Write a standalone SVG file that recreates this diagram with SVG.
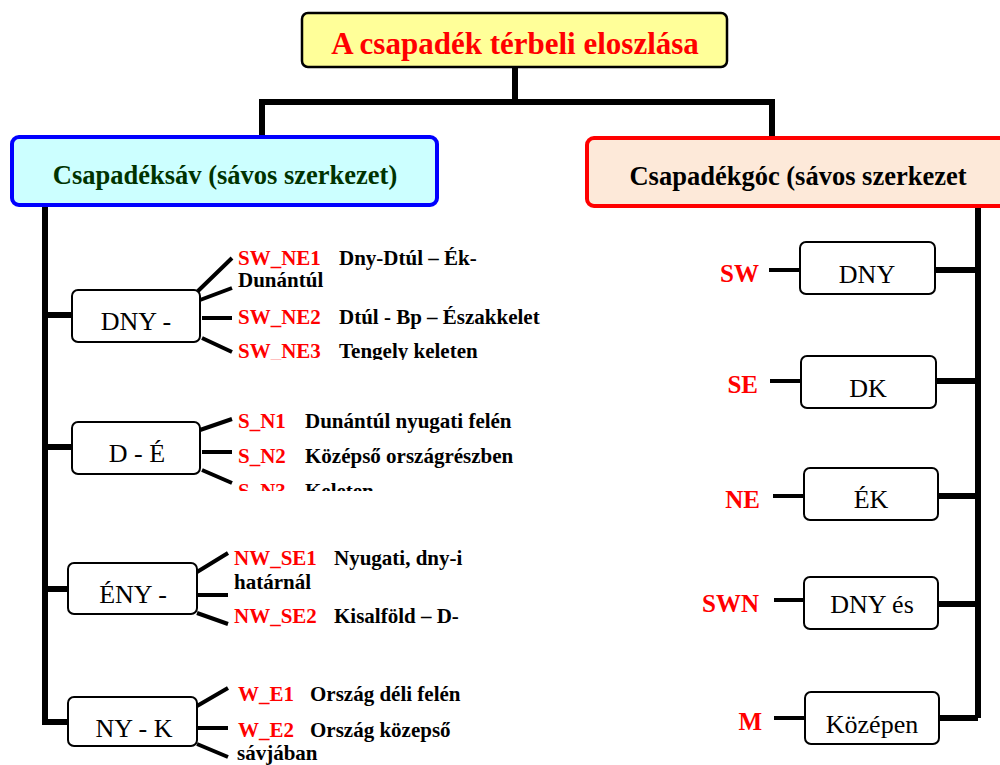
<svg xmlns="http://www.w3.org/2000/svg" width="1000" height="765" viewBox="0 0 1000 765">
<style>
.box{fill:#fff;stroke:#000;stroke-width:2}
.bt{font-family:"Liberation Serif",serif;font-size:26px;fill:#000;text-anchor:middle}
.code{font-family:"Liberation Serif",serif;font-size:21px;font-weight:bold;fill:#ff0000}
.desc{font-family:"Liberation Serif",serif;font-size:21px;font-weight:bold;fill:#000}
.rc{font-family:"Liberation Serif",serif;font-size:25px;font-weight:bold;fill:#ff0000;text-anchor:end}
.thick{stroke:#000;stroke-width:6;fill:none}
.thin{stroke:#000;stroke-width:4;fill:none}
</style>
<defs>
<clipPath id="c1"><rect x="0" y="0" width="1000" height="360"/></clipPath>
<clipPath id="c2"><rect x="0" y="0" width="1000" height="491"/></clipPath>
</defs>
<rect width="1000" height="765" fill="#fff"/>
<g id="connectors">
<path class="thick" d="M515 67V102M259 102H775M262 102V137M772 102V139"/>
<path class="thick" d="M45 205V722H68M45 315H72M45 447H72M45 589H68"/>
<path class="thin" d="M198 291L232 258M200 300L232 288M202 318H232M202 338L232 352"/>
<path class="thin" d="M200 430L232 419M202 452H232M202 470L232 483"/>
<path class="thin" d="M197 572L228 553M198 595H228M197 613L228 624"/>
<path class="thin" d="M197 706L228 688M198 728H228M197 744L228 757"/>
<path class="thick" d="M978 207V718M936 270H978M937 381H978M938 496H978M938 604H978M939 718H978"/>
<path class="thin" d="M769 270H800M770 381H801M773 496H804M774 600H804M774 718H805"/>
</g>
<g id="title">
<rect x="302" y="13" width="425" height="54" rx="6" fill="#ffff99" stroke="#000" stroke-width="2.5"/>
<text x="515" y="54" font-family="Liberation Serif,serif" font-size="31" font-weight="bold" fill="#ff0000" text-anchor="middle">A csapadék térbeli eloszlása</text>
</g>
<g id="hdr-left">
<rect x="12" y="137" width="425" height="68" rx="7" fill="#ccffff" stroke="#0000ff" stroke-width="4"/>
<text x="225" y="184" font-family="Liberation Serif,serif" font-size="26.5" font-weight="bold" fill="#003300" text-anchor="middle">Csapadéksáv (sávos szerkezet)</text>
</g>
<g id="hdr-right">
<rect x="587" y="138" width="430" height="68" rx="7" fill="#fde9d9" stroke="#ff0000" stroke-width="4"/>
<text x="798" y="185" font-family="Liberation Serif,serif" font-size="26.5" font-weight="bold" fill="#000" text-anchor="middle">Csapadékgóc (sávos szerkezet</text>
</g>
<g id="n-dny">
<rect class="box" x="72" y="290" width="128" height="52" rx="6"/>
<text class="bt" x="136" y="330">DNY -</text>
<text class="code" x="238" y="265">SW_NE1</text><text class="desc" x="339" y="265">Dny-Dtúl – Ék-</text>
<text class="desc" x="238" y="287">Dunántúl</text>
<text class="code" x="238" y="324">SW_NE2</text><text class="desc" x="339" y="324">Dtúl - Bp – Északkelet</text>
<g clip-path="url(#c1)"><text class="code" x="238" y="358">SW_NE3</text><text class="desc" x="339" y="358">Tengely keleten</text></g>
</g>
<g id="n-de">
<rect class="box" x="72" y="422" width="128" height="52" rx="6"/>
<text class="bt" x="137" y="462">D - É</text>
<text class="code" x="238" y="428">S_N1</text><text class="desc" x="305" y="428">Dunántúl nyugati felén</text>
<text class="code" x="238" y="463">S_N2</text><text class="desc" x="305" y="463">Középső országrészben</text>
<g clip-path="url(#c2)"><text class="code" x="238" y="498">S_N3</text><text class="desc" x="305" y="498">Keleten</text></g>
</g>
<g id="n-eny">
<rect class="box" x="68" y="563" width="129" height="51" rx="6"/>
<text class="bt" x="133" y="603">ÉNY -</text>
<text class="code" x="234" y="565">NW_SE1</text><text class="desc" x="334" y="565">Nyugati, dny-i</text>
<text class="desc" x="234" y="589">határnál</text>
<text class="code" x="234" y="623">NW_SE2</text><text class="desc" x="334" y="623">Kisalföld – D-</text>
</g>
<g id="n-nyk">
<rect class="box" x="68" y="697" width="129" height="49" rx="6"/>
<text class="bt" x="134" y="737">NY - K</text>
<text class="code" x="238" y="701">W_E1</text><text class="desc" x="310" y="701">Ország déli felén</text>
<text class="code" x="238" y="737">W_E2</text><text class="desc" x="310" y="737">Ország közepső</text>
<text class="desc" x="237" y="760">sávjában</text>
</g>
<g id="r-sw">
<rect class="box" x="800" y="242" width="135" height="52" rx="6"/>
<text class="bt" x="867" y="283">DNY</text>
<text class="rc" x="759" y="282">SW</text>
</g>
<g id="r-se">
<rect class="box" x="801" y="356" width="135" height="52" rx="6"/>
<text class="bt" x="868" y="397">DK</text>
<text class="rc" x="758" y="393">SE</text>
</g>
<g id="r-ne">
<rect class="box" x="804" y="468" width="134" height="52" rx="6"/>
<text class="bt" x="871" y="508">ÉK</text>
<text class="rc" x="760" y="508">NE</text>
</g>
<g id="r-swn">
<rect class="box" x="804" y="577" width="134" height="52" rx="6"/>
<text class="bt" x="872" y="613">DNY és</text>
<text class="rc" x="759" y="612">SWN</text>
</g>
<g id="r-m">
<rect class="box" x="805" y="692" width="134" height="52" rx="6"/>
<text class="bt" x="872" y="733">Középen</text>
<text class="rc" x="762" y="730">M</text>
</g>
</svg>
